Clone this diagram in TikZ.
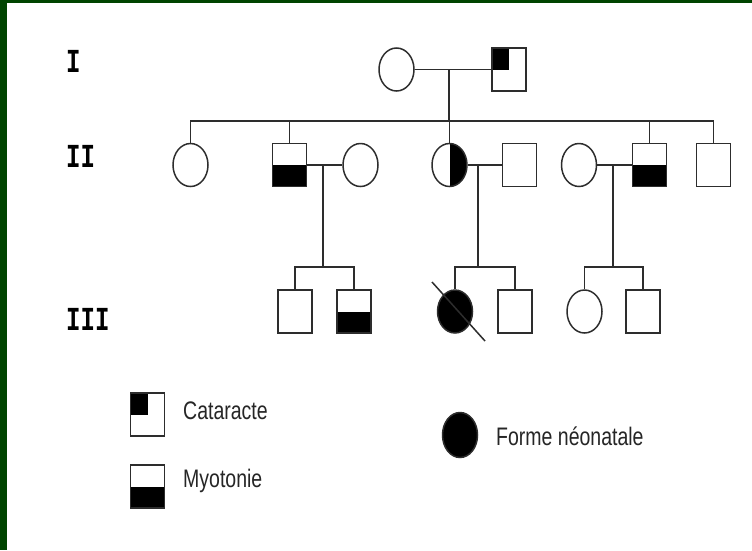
\documentclass[tikz,border=0pt]{standalone}
\usepackage{fontspec}
\setmainfont{Liberation Sans}
\newfontfamily\legfont{Liberation Sans}
\newfontfamily\genfont{Liberation Mono}
\usetikzlibrary{shapes.geometric,calc}
\definecolor{frame}{RGB}{0,68,0}
\definecolor{ink}{RGB}{45,45,45}
\tikzset{
  lin/.style={draw=ink, line width=1.5pt},
  fem/.style={ellipse, draw=ink, line width=1.5pt, minimum width=35pt, minimum height=43pt, inner sep=0pt, fill=white},
  mal/.style={rectangle, draw=ink, line width=1.5pt, minimum width=34pt, minimum height=43pt, inner sep=0pt, fill=white},
  cat/.style={path picture={\fill[black] (path picture bounding box.north west) rectangle (path picture bounding box.center);}},
  myo/.style={path picture={\fill[black] (path picture bounding box.west) rectangle (path picture bounding box.south east);}},
  halfr/.style={path picture={\fill[black] (path picture bounding box.north) rectangle (path picture bounding box.south east);}},
  neo/.style={fill=black},
  gen/.style={anchor=base west, inner sep=0pt, font=\genfont\bfseries\fontsize{24}{24}\selectfont},
  leg/.style={anchor=base west, inner sep=0pt, text=black!85, font=\legfont\fontsize{19.5}{20}\selectfont}
}
\begin{document}
\begin{tikzpicture}[x=1pt,y=-1pt]
\useasboundingbox (0,0) rectangle (752,550);
\fill[white] (0,0) rectangle (752,550);
\fill[frame] (0,0) rectangle (7,550);
\fill[frame] (0,0) rectangle (752,2.5);

% generation labels
\node[gen] (gI) at (66,72) {\scalebox{1}[1.4]{I}};
\node[gen] (gII) at (66,167) {\scalebox{1}[1.4]{II}};
\node[gen] (gIII) at (66,330) {\scalebox{1}[1.4]{III}};

% generation I
\node[fem] (c1) at (396.5,69.5) {};
\node[mal,cat] (s1) at (509,69.5) {};

% generation II
\node[fem] (a) at (190.5,165) {};
\node[mal,myo] (b) at (289.5,165) {};
\node[fem] (c) at (360.5,165) {};
\node[fem,halfr] (d) at (449.5,165) {};
\node[mal] (e) at (519.5,165) {};
\node[fem] (f) at (579,165) {};
\node[mal,myo] (g) at (649.5,165) {};
\node[mal] (h) at (713.5,165) {};

% generation III
\node[mal] (p) at (295,311.5) {};
\node[mal,myo] (q) at (354,311.5) {};
\node[fem,neo] (r) at (455,311.5) {};
\node[mal] (s) at (515,311.5) {};
\node[fem] (t) at (584.5,311.5) {};
\node[mal] (u) at (643,311.5) {};

% connectors generation I -> II
\draw[lin] (c1) -- (s1);
\coordinate (m1) at (449,69.5);
\coordinate (j1) at (449,121);
\draw[lin] (m1) -- (j1);
\draw[lin] (a.north) |- (j1) -| (h.north);
\draw[lin] (b.north) -- (b.north |- j1);
\draw[lin] (d.north) -- (d.north |- j1);
\draw[lin] (g.north) -- (g.north |- j1);

% generation II -> III
\draw[lin] (b) -- (c);
\coordinate (m2) at (323,165);
\coordinate (j2) at (323,267);
\draw[lin] (m2) -- (j2);
\draw[lin] (p.north) |- (j2) -| (q.north);

\draw[lin] (d) -- (e);
\coordinate (m3) at (478,165);
\coordinate (j3) at (478,267);
\draw[lin] (m3) -- (j3);
\draw[lin] (r.north) |- (j3) -| (s.north);

\draw[lin] (f) -- (g);
\coordinate (m4) at (613,165);
\coordinate (j4) at (613,267);
\draw[lin] (m4) -- (j4);
\draw[lin] (t.north) |- (j4) -| (u.north);

% deceased slash
\coordinate (r1) at ($(r.center)+(-23,-29.5)$);
\coordinate (r2) at ($(r.center)+(30,29.5)$);
\draw[lin] (r1) -- (r2);

% legend
\node[mal,cat] (L1) at (147.5,414.5) {};
\node[mal,myo] (L2) at (147.5,486.5) {};
\node[fem,neo,minimum height=45pt] (L3) at (460,435) {};
\node[leg] (t1) at (183,419) {\scalebox{1}[1.3]{Cataracte}};
\node[leg] (t2) at (183,487) {\scalebox{1}[1.3]{Myotonie}};
\node[leg] (t3) at (496,445) {\scalebox{1}[1.3]{Forme néonatale}};
\end{tikzpicture}
\end{document}
